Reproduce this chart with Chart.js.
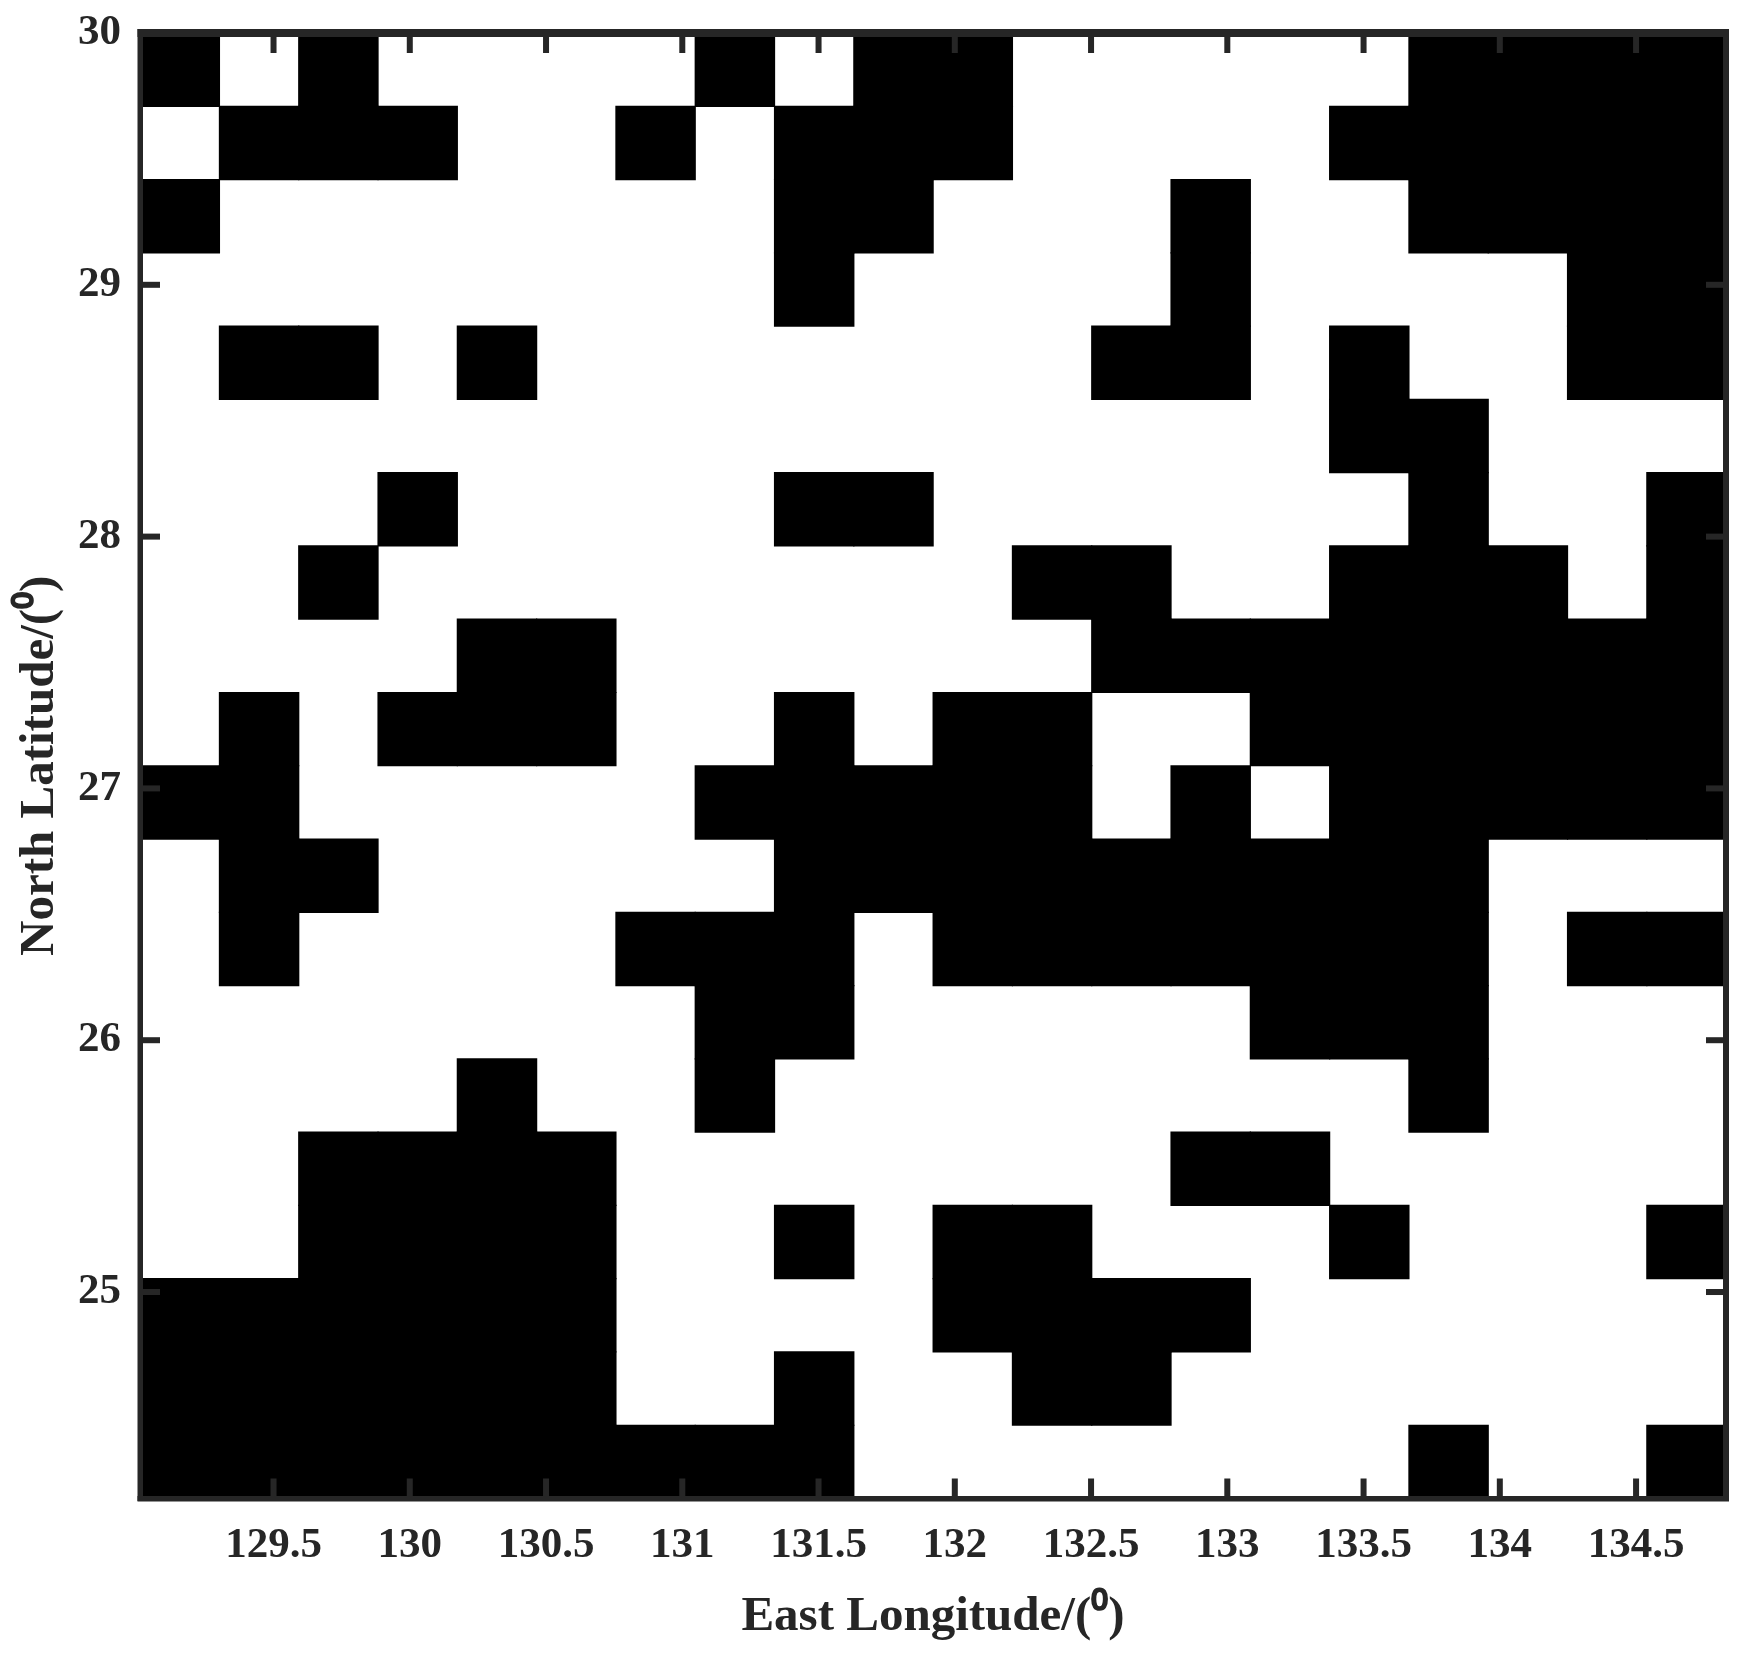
<!DOCTYPE html>
<html>
<head>
<meta charset="utf-8">
<title>Grid map</title>
<script src="https://cdn.jsdelivr.net/npm/chart.js@4"></script>
<style>
  html, body { margin: 0; padding: 0; background: #fff; }
  canvas { display: block; }
</style>
</head>
<body>
<canvas id="gridChart" width="1748" height="1665"></canvas>
<script>
// column centres (East longitude) of the 20 grid cells
const lonCenters = [129.156, 129.447, 129.738, 130.029, 130.320, 130.611, 130.902, 131.193, 131.484, 131.775,
    132.066, 132.357, 132.648, 132.939, 133.230, 133.521, 133.812, 134.103, 134.394, 134.685];
// row edges (North latitude), top to bottom
const latEdges = [30, 29.709, 29.418, 29.127, 28.836, 28.545, 28.254, 27.963, 27.672, 27.381, 27.09,
    26.799, 26.508, 26.217, 25.926, 25.635, 25.344, 25.053, 24.762, 24.471, 24.18];
// 1 = black cell, one string per row, top to bottom
const cellRows = [
    '10100001011000001111',
    '01110010111000011111',
    '10000000110001001111',
    '00000000100001000011',
    '01101000000011010011',
    '00000000000000011000',
    '00010000110000001001',
    '00100000000110011101',
    '00001100000011111111',
    '01011100101100111111',
    '11000001111101011111',
    '01100000111111111000',
    '01000011101111111011',
    '00000001100000111000',
    '00001001000000001000',
    '00111100000001100000',
    '00111100101100010001',
    '11111100001111000000',
    '11111100100110000000',
    '11111111100000001001'
];
const lonTicks = [129.5, 130, 130.5, 131, 131.5, 132, 132.5, 133, 133.5, 134, 134.5];
const latTicks = [25, 26, 27, 28, 29, 30];
const lonRange = [129.01, 134.83];
const latRange = [24.18, 30];

const inkColor = '#262626';
const tickFont = { family: '"Liberation Serif"', size: 43, weight: 'bold' };
const titleFont = { family: '"Liberation Serif"', size: 49, weight: 'bold' };

// matlab style box with inward ticks on all four sides
const boxPlugin = {
    id: 'boxPlugin',
    afterDraw(chart) {
        const { ctx, chartArea: a, scales } = chart;
        const tickLen = 20, tickW = 6;
        ctx.save();
        ctx.fillStyle = inkColor;
        lonTicks.forEach(v => {
            const px = scales.x.getPixelForValue(v);
            ctx.fillRect(px - tickW / 2, a.top, tickW, tickLen);
            ctx.fillRect(px - tickW / 2, a.bottom - tickLen, tickW, tickLen);
        });
        latTicks.forEach(v => {
            const py = scales.y.getPixelForValue(v);
            ctx.fillRect(a.left, py - tickW / 2, tickLen, tickW);
            ctx.fillRect(a.right - tickLen, py - tickW / 2, tickLen, tickW);
        });
        ctx.fillRect(a.left - 2.5, a.top - 4, a.width + 5.5, 8);
        ctx.fillRect(a.left - 2.5, a.bottom - 2.5, a.width + 5.5, 5.5);
        ctx.fillRect(a.left - 2.5, a.top - 4, 5.5, a.height + 6.5);
        ctx.fillRect(a.right - 3, a.top - 4, 6, a.height + 6.5);
        ctx.restore();
    }
};

const rowDatasets = cellRows.map((row, r) => ({
    label: 'row ' + r,
    data: lonCenters.map((lon, c) => ({
        x: lon,
        y: row[c] === '1' ? [latEdges[r + 1], latEdges[r]] : null
    })),
    backgroundColor: '#000000',
    borderWidth: 0,
    inflateAmount: 0.6,
    barPercentage: 1,
    categoryPercentage: 1
}));

new Chart(document.getElementById('gridChart'), {
    type: 'bar',
    data: { datasets: rowDatasets },
    plugins: [boxPlugin],
    options: {
        responsive: false,
        animation: false,
        layout: { padding: { left: 0, top: 33, right: 22, bottom: 0 } },
        plugins: { legend: { display: false }, tooltip: { enabled: false } },
        scales: {
            x: {
                type: 'linear',
                stacked: true,
                offset: false,
                min: lonRange[0],
                max: lonRange[1],
                afterBuildTicks: scale => { scale.ticks = lonTicks.map(v => ({ value: v })); },
                afterFit: scale => {
                    scale.height = 166.5;
                    scale.paddingLeft = 0;
                    scale.paddingRight = 0;
                },
                grid: { display: false, drawTicks: false, offset: false },
                border: { display: false },
                ticks: {
                    autoSkip: false,
                    maxRotation: 0,
                    padding: 22,
                    color: inkColor,
                    font: tickFont,
                    callback: v => String(v)
                },
                title: {
                    display: true,
                    text: 'East Longitude/(⁰)',
                    color: inkColor,
                    font: titleFont,
                    padding: { top: 0, bottom: 18 }
                }
            },
            y: {
                type: 'linear',
                beginAtZero: false,
                min: latRange[0],
                max: latRange[1],
                afterBuildTicks: scale => { scale.ticks = latTicks.map(v => ({ value: v })); },
                afterFit: scale => {
                    scale.width = 140;
                    scale.paddingTop = 0;
                    scale.paddingBottom = 0;
                },
                grid: { display: false, drawTicks: false },
                border: { display: false },
                ticks: {
                    autoSkip: false,
                    padding: 19,
                    color: inkColor,
                    font: tickFont,
                    callback: v => String(v)
                },
                title: {
                    display: true,
                    text: 'North Latitude/(⁰)',
                    color: inkColor,
                    font: titleFont,
                    padding: { top: 11, bottom: 0 }
                }
            }
        }
    }
});
</script>
</body>
</html>
